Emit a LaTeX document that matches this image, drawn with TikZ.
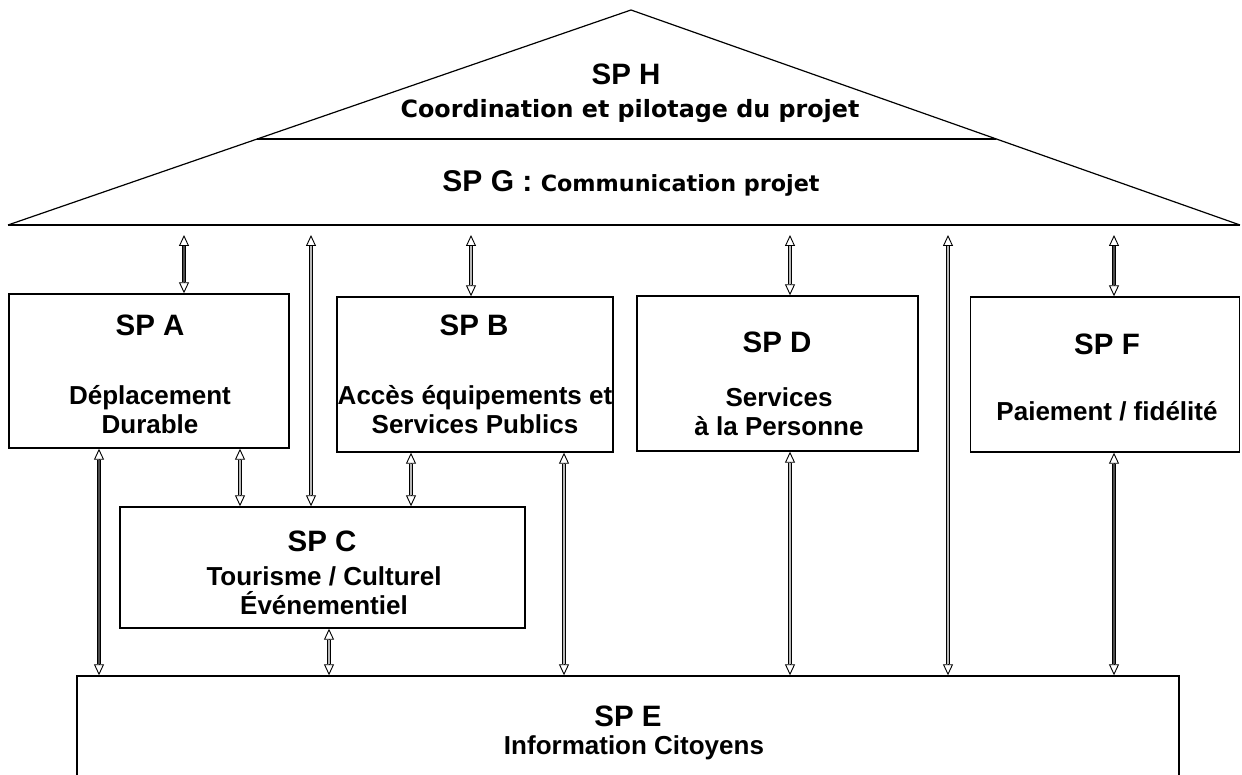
\documentclass[tikz,border=0pt]{standalone}
\usepackage{fontspec}
\setmainfont{Liberation Sans}
\newfontfamily\verd{DejaVu Sans}
\usetikzlibrary{arrows.meta,calc}
\tikzset{
  ohead/.tip={Triangle[length=11pt,width=10pt,fill=white,line width=0.9pt]},
  box/.style={draw, line width=1.4pt, inner sep=0pt},
  ttl/.style={font=\fontsize{29.5}{34}\selectfont\bfseries, inner sep=0pt, anchor=base},
  sub/.style={font=\fontsize{26}{29}\selectfont\bfseries, inner sep=0pt, align=center},
  heads/.style={draw, line width=0.9pt, {ohead}-{ohead}},
  shaft/.style={draw, line width=0.9pt, double=gray!55, double distance=1.8pt, shorten <=11pt, shorten >=11pt},
  dshaft/.style={shaft, double=black!70},
}
\newcommand{\biarrow}[3][shaft]{\draw[heads] #2 -- #3; \draw[#1] #2 -- #3;}
\begin{document}
\begin{tikzpicture}[x=1pt,y=-1pt]
\useasboundingbox (0,0) rectangle (1242,775);
% roof
\coordinate (apex) at (631,10);
\coordinate (bl) at (8,225);
\coordinate (br) at (1240,225);
\draw[line width=1.2pt, line join=miter] (bl) -- (apex) -- (br);
\draw[line width=2.5pt] (bl) -- (br);
\draw[line width=2pt] ($(bl)!0.40!(apex)$) -- ($(br)!0.40!(apex)$);
\node[ttl] (Ht) at (626,85) {SP H};
\node[inner sep=0pt, anchor=base, font=\verd\fontsize{23.8}{28}\selectfont\bfseries] (Hd) at (630,118) {Coordination et pilotage du projet};
\node[inner sep=0pt, anchor=base] (G) at (631,192) {\fontsize{30}{34}\selectfont\bfseries SP G : {\verd\fontsize{22.3}{26}\selectfont Communication projet}};
% boxes
\node[box, minimum width=280pt, minimum height=154pt] (A) at (149,371) {};
\node[box, minimum width=276pt, minimum height=155pt] (B) at (475,374.5) {};
\node[box, minimum width=281pt, minimum height=155pt] (D) at (777.5,373.5) {};
\node[box, minimum width=269pt, minimum height=155pt] (F) at (1105,374.5) {};
\node[box, minimum width=405pt, minimum height=121pt] (C) at (322.5,567.5) {};
\node[box, minimum width=1102pt, minimum height=126pt] (E) at (628,739) {};
% texts
\node[ttl] (At) at (150,336) {SP A};
\node[sub] (Ad) at (150,410) {Déplacement\\Durable};
\node[ttl] (Bt) at (474,336) {SP B};
\node[sub] (Bd) at (475,410) {Accès équipements et\\Services Publics};
\node[ttl] (Dt) at (777,353) {SP D};
\node[sub] (Dd) at (779,412) {Services\\à la Personne};
\node[ttl] (Ft) at (1107,355) {SP F};
\node[sub] (Fd) at (1107,411) {Paiement / fidélité};
\node[ttl] (Ct) at (322,551) {SP C};
\node[sub] (Cd) at (324,591) {Tourisme / Culturel\\Événementiel};
\node[ttl] (Et) at (628,726) {SP E};
\node[sub] (Ed) at (634,748) {Information Citoyens};
% roof anchor coordinates
\coordinate (r1) at (184,235);
\coordinate (r2) at (311,235);
\coordinate (r3) at (471,235);
\coordinate (r4) at (790,235);
\coordinate (r5) at (948,235);
\coordinate (r6) at (1114,235);
% arrows from roof
\biarrow[dshaft]{(r1)}{(r1 |- A.north)}
\biarrow{(r2)}{(r2 |- C.north)}
\biarrow{(r3)}{(r3 |- B.north)}
\biarrow{(r4)}{(r4 |- D.north)}
\biarrow{(r5)}{(r5 |- E.north)}
\biarrow[dshaft]{(r6)}{(r6 |- F.north)}
% lower arrows
\biarrow[dshaft]{(A.south -| 99,0)}{(E.north -| 99,0)}
\biarrow{(A.south -| 240,0)}{(C.north -| 240,0)}
\biarrow{(B.south -| 411,0)}{(C.north -| 411,0)}
\biarrow{(C.south -| 329,0)}{(E.north -| 329,0)}
\biarrow{(B.south -| 564,0)}{(E.north -| 564,0)}
\biarrow{(D.south -| 790,0)}{(E.north -| 790,0)}
\biarrow[dshaft]{(F.south -| 1114,0)}{(E.north -| 1114,0)}
\end{tikzpicture}
\end{document}
